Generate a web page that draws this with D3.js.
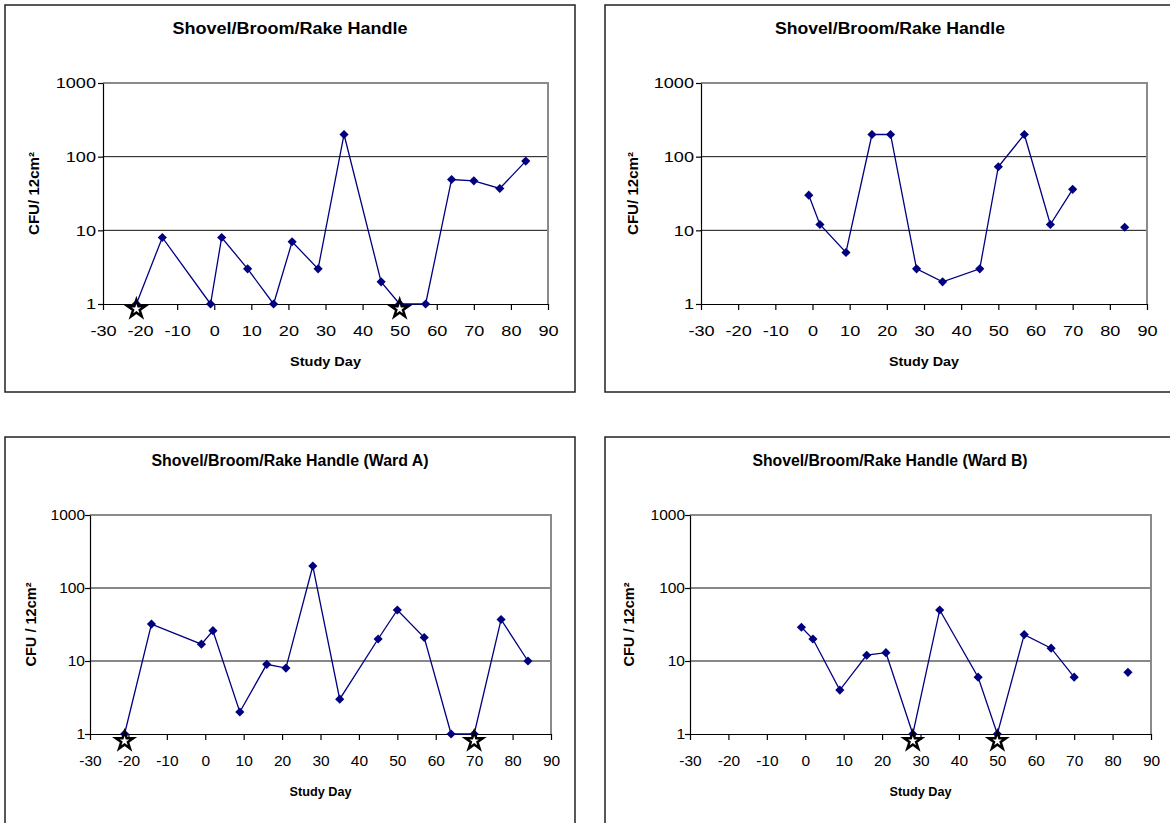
<!DOCTYPE html>
<html>
<head>
<meta charset="utf-8">
<script src="https://cdn.jsdelivr.net/npm/d3@7"></script>
<style>
  html, body { margin: 0; padding: 0; background: #fff; }
  svg { display: block; font-family: Arial, "Liberation Sans", sans-serif; }
</style>
</head>
<body>
<svg id="chart" width="1170" height="823"></svg>
<script>
// Sampling days (relative to intervention start)
const studyDays = [-21, -14, -1, 2, 9, 16, 21, 28, 35, 45, 50, 57, 64, 70, 77, 84];

// CFU per 12 cm² on each sampling day (null = not sampled)
const handleSeriesA = [1, 8, 1, 8, 3, 1, 7, 3, 200, 2, 1, 1, 49, 47, 37, 87];
const handleSeriesB = [null, null, 30, 12, 5, 200, 200, 3, 2, 3, 73, 200, 12, 36, null, 11];
const wardAValues   = [1, 32, 17, 26, 2, 9, 8, 200, 3, 20, 50, 21, 1, 1, 37, 10];
const wardBValues   = [null, null, 29, 20, 4, 12, 13, 1, 50, 6, 1, 23, 15, 6, null, 7];

// Days flagged with a star marker below the axis
const handleStarsA = [-21, 50];
const handleStarsB = [];
const wardAStars   = [-21, 70];
const wardBStars   = [28, 50];

// Axis ticks and labels
const xTickValues = [-30, -20, -10, 0, 10, 20, 30, 40, 50, 60, 70, 80, 90];
const yTickValues = [1, 10, 100, 1000];
const chartTitles = [
  "Shovel/Broom/Rake Handle",
  "Shovel/Broom/Rake Handle",
  "Shovel/Broom/Rake Handle (Ward A)",
  "Shovel/Broom/Rake Handle (Ward B)"
];
const yAxisTitles = ["CFU/ 12cm²", "CFU/ 12cm²", "CFU / 12cm²", "CFU / 12cm²"];
const xAxisTitle = "Study Day";

// Panel layout
const panels = [
  { title: chartTitles[0], yTitle: yAxisTitles[0], values: handleSeriesA, stars: handleStarsA,
    box: [5, 5, 575, 392], plot: { l: 103, r: 548, t: 83, b: 304 },
    titleY: 34, titleW: 235, xTitleY: 366, xTitleW: 71, yTitleX: 39, yTitleW: 83,
    tickScale: 1.17, yTickOff: 7, starDy: 5 },
  { title: chartTitles[1], yTitle: yAxisTitles[1], values: handleSeriesB, stars: handleStarsB,
    box: [605, 5, 1180, 392], plot: { l: 701, r: 1147, t: 83, b: 304 },
    titleY: 34, titleW: 230, xTitleY: 366, xTitleW: 70, yTitleX: 638, yTitleW: 83,
    tickScale: 1.17, yTickOff: 7, starDy: 5 },
  { title: chartTitles[2], yTitle: yAxisTitles[2], values: wardAValues, stars: wardAStars,
    box: [5, 437, 575, 840], plot: { l: 90, r: 551, t: 515, b: 734 },
    titleY: 466, titleW: 277, xTitleY: 796, xTitleW: 62, yTitleX: 36, yTitleW: 84,
    tickScale: 1.0, yTickOff: 5, starDy: 7 },
  { title: chartTitles[3], yTitle: yAxisTitles[3], values: wardBValues, stars: wardBStars,
    box: [605, 437, 1180, 840], plot: { l: 690, r: 1151, t: 515, b: 734 },
    titleY: 466, titleW: 275, xTitleY: 796, xTitleW: 62, yTitleX: 634, yTitleW: 84,
    tickScale: 1.0, yTickOff: 5, starDy: 7 }
];

const svg = d3.select("#chart");
const navy = "#000080";
const plainNumber = d => String(d);

panels.forEach(p => {
  const g = svg.append("g");
  const { l, r, t, b } = p.plot;

  const x = d3.scaleLinear().domain([-30, 90]).range([l, r]);
  const y = d3.scaleLog().domain([1, 1000]).range([b, t]);

  // outer frame
  g.append("rect")
    .attr("x", p.box[0]).attr("y", p.box[1])
    .attr("width", p.box[2] - p.box[0]).attr("height", p.box[3] - p.box[1])
    .attr("fill", "none").attr("stroke", "#222").attr("stroke-width", 1.5);

  // horizontal gridlines at 10 and 100
  g.selectAll(".grid").data(yTickValues.filter(v => v > 1 && v < 1000)).enter()
    .append("line")
    .attr("x1", l).attr("x2", r)
    .attr("y1", d => y(d)).attr("y2", d => y(d))
    .attr("stroke", "#111").attr("stroke-width", 1);

  // plot-area top and right edges
  g.append("path")
    .attr("d", `M${l},${y(1000)}H${x(90)}V${b}`)
    .attr("fill", "none").attr("stroke", "#8a8a8a").attr("stroke-width", 2);

  // x axis
  const xAxis = g.append("g")
    .attr("transform", `translate(0,${b})`)
    .call(d3.axisBottom(x).tickValues(xTickValues).tickFormat(plainNumber)
      .tickSize(6).tickSizeOuter(0).tickPadding(15));
  xAxis.select(".domain").attr("stroke", "#000").attr("stroke-width", 1.2);
  xAxis.selectAll(".tick line").attr("stroke", "#000").attr("stroke-width", 1.2);
  xAxis.selectAll(".tick text")
    .attr("font-size", 15.5).attr("fill", "#000")
    .attr("font-family", "Arial, 'Liberation Sans', sans-serif")
    .attr("transform", `scale(${p.tickScale},1)`);

  // y axis
  const yAxis = g.append("g")
    .attr("transform", `translate(${l},0)`)
    .call(d3.axisLeft(y).tickValues(yTickValues).tickFormat(plainNumber)
      .tickSize(5).tickSizeOuter(0));
  yAxis.select(".domain").attr("stroke", "#000").attr("stroke-width", 1.2);
  yAxis.selectAll(".tick line").attr("stroke", "#000").attr("stroke-width", 1.2);
  yAxis.selectAll(".tick text")
    .attr("font-size", 15.5).attr("fill", "#000")
    .attr("font-family", "Arial, 'Liberation Sans', sans-serif")
    .attr("x", 0)
    .attr("transform", `translate(${-p.yTickOff},0) scale(${p.tickScale},1)`);

  // chart title, centred in the frame
  g.append("text")
    .attr("x", p.box[0] + 285).attr("y", p.titleY)
    .attr("text-anchor", "middle")
    .attr("font-size", 16).attr("font-weight", "bold")
    .attr("textLength", p.titleW).attr("lengthAdjust", "spacingAndGlyphs")
    .text(p.title);

  // axis titles
  g.append("text")
    .attr("x", (l + r) / 2).attr("y", p.xTitleY)
    .attr("text-anchor", "middle")
    .attr("font-size", 13).attr("font-weight", "bold")
    .attr("textLength", p.xTitleW).attr("lengthAdjust", "spacingAndGlyphs")
    .text(xAxisTitle);

  g.append("text")
    .attr("transform", `translate(${p.yTitleX},${(t + b) / 2}) rotate(-90)`)
    .attr("text-anchor", "middle")
    .attr("font-size", 14).attr("font-weight", "bold")
    .attr("textLength", p.yTitleW).attr("lengthAdjust", "spacingAndGlyphs")
    .text(p.yTitle);

  // series line and diamond markers
  const pts = studyDays.map((d, i) => ({ day: d, v: p.values[i] }));
  const line = d3.line()
    .defined(d => d.v != null)
    .x(d => x(d.day)).y(d => y(d.v));
  g.append("path")
    .datum(pts)
    .attr("d", line)
    .attr("fill", "none").attr("stroke", navy).attr("stroke-width", 1.3);

  const diamond = d3.symbol().type(d3.symbolSquare).size(42);
  g.selectAll(".pt").data(pts.filter(d => d.v != null)).enter()
    .append("path")
    .attr("d", diamond)
    .attr("transform", d => `translate(${x(d.day)},${y(d.v)}) rotate(45)`)
    .attr("fill", navy);

  // star markers
  const star = d3.symbol().type(d3.symbolStar).size(95);
  g.selectAll(".star").data(p.stars).enter()
    .append("path")
    .attr("d", star)
    .attr("transform", d => `translate(${x(d)},${y(1) + p.starDy})`)
    .attr("fill", "#fff").attr("stroke", "#000").attr("stroke-width", 2.5)
    .attr("stroke-linejoin", "miter");
});
</script>
</body>
</html>
